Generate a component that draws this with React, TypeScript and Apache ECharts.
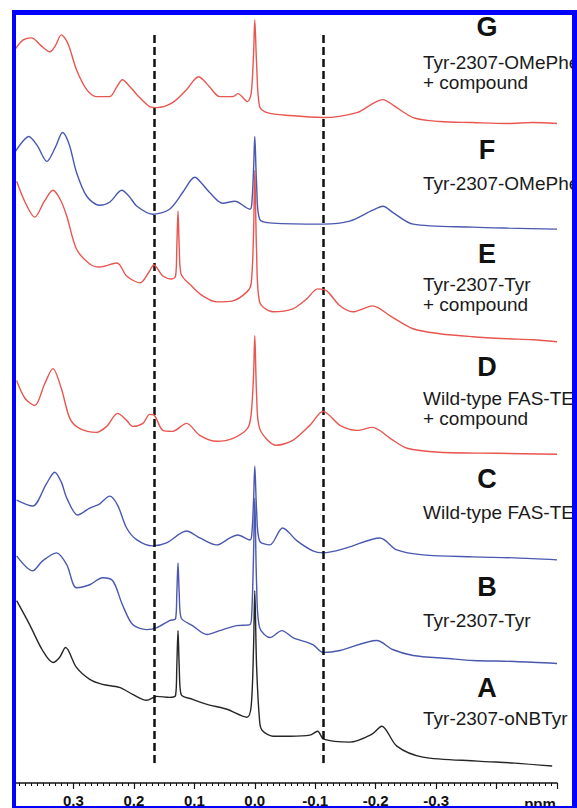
import React, { useEffect, useRef } from "react";
import * as echarts from "echarts";

// [ppm, intensity above the trace's own baseline]
const specG: [number, number][] = [
  [0.396, 75], [0.383, 84], [0.369, 86], [0.355, 79], [0.339, 72], [0.330, 78], [0.320, 89], [0.309, 80],
  [0.295, 54], [0.278, 34], [0.262, 27], [0.240, 27], [0.228, 37], [0.219, 44], [0.208, 38], [0.195, 29],
  [0.174, 17], [0.162, 16], [0.136, 21], [0.113, 34], [0.100, 44], [0.093, 47], [0.084, 43], [0.075, 37],
  [0.058, 27], [0.036, 27], [0.028, 30], [0.012, 22], [0.006, 30], [0.002, 70], [0.0, 104], [-0.003, 60],
  [-0.008, 17], [-0.020, 11], [-0.058, 8], [-0.113, 6], [-0.169, 11], [-0.195, 20], [-0.212, 24],
  [-0.230, 18], [-0.262, 6], [-0.306, 2], [-0.360, 1], [-0.417, 0], [-0.460, 1], [-0.500, 0],
];
const specF: [number, number][] = [
  [0.396, 78], [0.384, 88], [0.374, 93], [0.360, 84], [0.344, 68], [0.330, 82], [0.318, 97], [0.307, 85],
  [0.295, 57], [0.278, 33], [0.257, 24], [0.240, 27], [0.220, 39], [0.208, 33], [0.195, 23], [0.169, 15],
  [0.141, 20], [0.119, 37], [0.106, 49], [0.099, 52], [0.088, 46], [0.075, 37], [0.053, 26], [0.033, 28],
  [0.008, 20], [0.005, 25], [0.002, 60], [0.0, 93], [-0.003, 45], [-0.008, 10], [-0.030, 6],
  [-0.113, 5], [-0.157, 8], [-0.195, 19], [-0.212, 23], [-0.230, 16], [-0.262, 5], [-0.361, 2],
  [-0.420, 1], [-0.500, 0],
];
const specE: [number, number][] = [
  [0.394, 161], [0.380, 140], [0.364, 125], [0.348, 141], [0.334, 152], [0.322, 143], [0.311, 126],
  [0.295, 93], [0.273, 78], [0.257, 75], [0.228, 79], [0.212, 66], [0.190, 59], [0.175, 70], [0.167, 77],
  [0.152, 66], [0.137, 63], [0.131, 66], [0.129, 95], [0.127, 131], [0.125, 95], [0.122, 68],
  [0.103, 55], [0.086, 46], [0.063, 40], [0.036, 41], [0.013, 50], [0.006, 58], [0.002, 110], [0.0, 172],
  [-0.003, 90], [-0.008, 40], [-0.030, 30], [-0.063, 33], [-0.086, 43], [-0.104, 53], [-0.119, 51],
  [-0.141, 36], [-0.162, 30], [-0.195, 36], [-0.224, 26], [-0.262, 13], [-0.306, 8], [-0.360, 5],
  [-0.417, 3], [-0.460, 2], [-0.500, 0],
];
const specD: [number, number][] = [
  [0.394, 74], [0.380, 56], [0.364, 49], [0.348, 70], [0.334, 86], [0.320, 66], [0.306, 36], [0.290, 26],
  [0.262, 22], [0.245, 28], [0.227, 41], [0.212, 34], [0.202, 28], [0.185, 31], [0.174, 40], [0.166, 39],
  [0.152, 24], [0.136, 23], [0.113, 31], [0.091, 19], [0.063, 13], [0.036, 16], [0.012, 26], [0.006, 40],
  [0.002, 80], [0.0, 119], [-0.003, 60], [-0.008, 26], [-0.036, 9], [-0.063, 14], [-0.091, 29],
  [-0.113, 43], [-0.141, 29], [-0.169, 24], [-0.195, 27], [-0.224, 16], [-0.252, 6], [-0.306, 2],
  [-0.400, 1], [-0.500, 0],
];
const specC: [number, number][] = [
  [0.394, 60], [0.3675, 54], [0.345, 76], [0.331, 88], [0.320, 78], [0.311, 62], [0.293, 45], [0.273, 52],
  [0.257, 56], [0.240, 64], [0.227, 55], [0.212, 32], [0.195, 20], [0.169, 14], [0.146, 17], [0.113, 29],
  [0.091, 22], [0.063, 15], [0.041, 22], [0.028, 25], [0.008, 20], [0.005, 25], [0.002, 60], [0.0, 94],
  [-0.003, 50], [-0.008, 19], [-0.025, 15], [-0.046, 32], [-0.070, 19], [-0.096, 9], [-0.113, 7],
  [-0.152, 12], [-0.207, 22], [-0.235, 10], [-0.278, 5], [-0.361, 3], [-0.430, 2], [-0.500, 0],
];
const specB: [number, number][] = [
  [0.394, 108], [0.3675, 93], [0.351, 103], [0.328, 111], [0.311, 99], [0.295, 76], [0.273, 79],
  [0.252, 86], [0.235, 83], [0.219, 59], [0.202, 39], [0.179, 34], [0.162, 36], [0.141, 43], [0.131, 45],
  [0.129, 70], [0.127, 101], [0.125, 70], [0.122, 46], [0.103, 38], [0.079, 29], [0.058, 33], [0.030, 38],
  [0.008, 39], [0.005, 50], [0.002, 110], [0.0, 166], [-0.003, 80], [-0.008, 36], [-0.025, 26],
  [-0.045, 33], [-0.063, 26], [-0.096, 19], [-0.113, 11], [-0.141, 13], [-0.202, 23], [-0.228, 14],
  [-0.262, 8], [-0.320, 5], [-0.361, 3], [-0.430, 2], [-0.500, 0],
];
const specA: [number, number][] = [
  [0.394, 166], [0.3725, 142], [0.351, 116], [0.334, 104], [0.323, 109], [0.313, 119], [0.295, 99],
  [0.273, 87], [0.252, 82], [0.224, 79], [0.202, 72], [0.179, 66], [0.162, 70], [0.141, 69], [0.131, 71],
  [0.129, 100], [0.127, 136], [0.125, 100], [0.122, 72], [0.103, 67], [0.079, 62], [0.046, 57],
  [0.013, 49], [0.006, 60], [0.002, 120], [0.0, 176], [-0.003, 100], [-0.008, 45], [-0.012, 36],
  [-0.030, 30], [-0.058, 30], [-0.091, 31], [-0.104, 35], [-0.114, 27], [-0.157, 24], [-0.194, 32],
  [-0.210, 40], [-0.235, 20], [-0.278, 9], [-0.369, 5], [-0.430, 3], [-0.492, 0],
];

const spectra = [specA, specB, specC, specD, specE, specF, specG];
const baselineOffsets = [17, 120, 224, 330, 443, 556, 662];
const traceColors = ["#262626", "#4a58b0", "#4a58b0", "#e85650", "#e85650", "#4a58b0", "#e85650"];

const panelLetters = ["A", "B", "C", "D", "E", "F", "G"];
const panelLines = [
  ["Tyr-2307-oNBTyr"],
  ["Tyr-2307-Tyr"],
  ["Wild-type FAS-TE"],
  ["Wild-type FAS-TE", "+ compound"],
  ["Tyr-2307-Tyr", "+ compound"],
  ["Tyr-2307-OMePhe"],
  ["Tyr-2307-OMePhe", "+ compound"],
];
const letterY = [688, 587, 479, 367, 254, 150, 27];
const lineY = [[718], [620], [512], [398, 418], [284, 304], [183], [62, 82]];

const dashedPpm = [0.167, -0.113];
const axisMin = -0.5;
const axisMax = 0.4;

export default function App() {
  const ref = useRef<HTMLDivElement>(null);
  useEffect(() => {
    if (!ref.current) return;
    const chart = echarts.init(ref.current, null, { renderer: "svg" });
    const font = "'Liberation Sans', Arial, Helvetica, sans-serif";
    const series: any[] = spectra.map((s, i) => ({
      type: "line",
      data: s.map(([p, v]) => [p, v + baselineOffsets[i]]),
      showSymbol: false,
      smooth: 0.3,
      lineStyle: { color: traceColors[i], width: 1.4 },
      z: 2 + i,
    }));
    series.push({
      type: "line",
      data: [],
      markLine: {
        silent: true,
        symbol: ["none", "none"],
        label: { show: false },
        lineStyle: { color: "#111", width: 2.5, type: [8, 4] },
        data: dashedPpm.map((p) => [{ coord: [p, 20] }, { coord: [p, 754] }]),
      },
    });
    const graphics: any[] = [];
    panelLetters.forEach((L, i) => {
      graphics.push({
        type: "text",
        x: 487,
        y: letterY[i],
        z: 50,
        style: {
          text: L,
          font: `bold 27px ${font}`,
          fill: "#111",
          textAlign: "center",
          textVerticalAlign: "middle",
        },
      });
      panelLines[i].forEach((t, j) => {
        graphics.push({
          type: "text",
          x: 423,
          y: lineY[i][j],
          z: 50,
          style: {
            text: t,
            font: `19px ${font}`,
            fill: "#1a1a1a",
            textAlign: "left",
            textVerticalAlign: "middle",
          },
        });
      });
    });
    graphics.push({
      type: "text",
      x: 540,
      y: 803,
      z: 50,
      style: { text: "ppm", font: `bold 15px ${font}`, fill: "#111", textAlign: "center", textVerticalAlign: "middle" },
    });
    // blue frame
    const blue = "#0000ff";
    graphics.push({ type: "rect", z: 100, shape: { x: 12, y: 10, width: 4, height: 798 }, style: { fill: blue } });
    graphics.push({ type: "rect", z: 100, shape: { x: 12, y: 10, width: 565, height: 5 }, style: { fill: blue } });
    graphics.push({ type: "rect", z: 100, shape: { x: 572, y: 10, width: 5, height: 798 }, style: { fill: blue } });
    graphics.push({ type: "rect", z: 100, shape: { x: 12, y: 806, width: 565, height: 2 }, style: { fill: blue } });

    chart.setOption({
      animation: false,
      backgroundColor: "#ffffff",
      grid: { left: 13, right: 20, top: 0, bottom: 22, containLabel: false },
      xAxis: {
        type: "value",
        inverse: true,
        min: axisMin,
        max: axisMax,
        interval: 0.1,
        splitLine: { show: false },
        axisLine: { show: true, lineStyle: { color: "#111", width: 1.5 } },
        axisTick: { show: true, length: 6, lineStyle: { color: "#111", width: 1.2 } },
        minorTick: { show: true, splitNumber: 10, length: 3, lineStyle: { color: "#111", width: 1 } },
        axisLabel: {
          margin: 10,
          color: "#111",
          fontFamily: font,
          fontWeight: "bold",
          fontSize: 15,
          formatter: (v: number) => (v > 0.35 || v < -0.35 ? "" : v.toFixed(1)),
        },
      },
      yAxis: { type: "value", min: 0, max: 786, show: false },
      series,
      graphic: graphics,
    });
    return () => chart.dispose();
  }, []);
  return (
    <div
      ref={ref}
      style={{ position: "fixed", left: 0, top: 0, width: 577, height: 808, background: "#fff" }}
    />
  );
}
